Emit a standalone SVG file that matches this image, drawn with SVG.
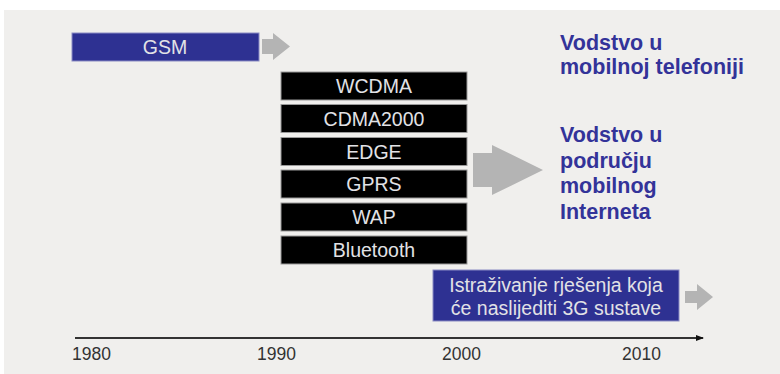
<svg xmlns="http://www.w3.org/2000/svg" width="780" height="374" viewBox="0 0 780 374">
<defs>
<style>
.bg{fill:#f0efed}
.blue{fill:#2e3192;stroke:#8a8cc4;stroke-width:1}
.blk{fill:#000;stroke:#9a9a9a;stroke-width:1}
.arr{fill:#b4b4b4}
.lbl{font-family:"Liberation Sans",Arial,sans-serif;font-size:19.5px;fill:#e2e2e6;text-anchor:middle}
.head{font-family:"Liberation Sans",Arial,sans-serif;font-size:21.5px;font-weight:bold;fill:#333399}
.yr{font-family:"Liberation Sans",Arial,sans-serif;font-size:17.5px;fill:#333}
</style>
<marker id="ah" markerWidth="8" markerHeight="8" refX="7" refY="4" orient="auto" markerUnits="userSpaceOnUse">
<path d="M0,1 L8,4 L0,7 Z" fill="#111"/>
</marker>
</defs>
<rect width="780" height="374" fill="#fff"/>
<rect class="bg" x="4" y="10" width="776" height="364"/>

<g id="gsm">
<rect class="blue" x="72" y="33" width="187" height="28"/>
<text class="lbl" x="165" y="54" font-size="19">GSM</text>
</g>

<g id="wcdma"><rect class="blk" x="281" y="72" width="186" height="28"/><text class="lbl" x="374" y="93">WCDMA</text></g>
<g id="cdma2000"><rect class="blk" x="281" y="104.5" width="186" height="28"/><text class="lbl" x="374" y="125.5">CDMA2000</text></g>
<g id="edge"><rect class="blk" x="281" y="137.5" width="186" height="28"/><text class="lbl" x="374" y="158.5">EDGE</text></g>
<g id="gprs"><rect class="blk" x="281" y="170" width="186" height="28"/><text class="lbl" x="374" y="191">GPRS</text></g>
<g id="wap"><rect class="blk" x="281" y="203" width="186" height="28"/><text class="lbl" x="374" y="224">WAP</text></g>
<g id="bluetooth"><rect class="blk" x="281" y="236" width="186" height="28"/><text class="lbl" x="374" y="257">Bluetooth</text></g>

<g id="research">
<rect class="blue" x="433" y="270" width="246" height="51"/>
<text class="lbl" x="556" y="292" font-size="20">Istraživanje rješenja koja</text>
<text class="lbl" x="556" y="315" font-size="20">će naslijediti 3G sustave</text>
</g>

<g id="lead1">
<text class="head" x="560" y="50">Vodstvo u</text>
<text class="head" x="560" y="74">mobilnoj telefoniji</text>
</g>
<g id="lead2">
<text class="head" x="560" y="142">Vodstvo u</text>
<text class="head" x="560" y="167.5">području</text>
<text class="head" x="560" y="193">mobilnog</text>
<text class="head" x="560" y="219">Interneta</text>
</g>

<g id="connectors">
<path class="arr" d="M262,39 H273 V33 L290,46.5 L273,60 V54 H262 Z"/>
<path class="arr" d="M473,153 H492 V145 L543,170 L492,195 V187 H473 Z"/>
<path class="arr" d="M685,291 H697 V284 L713,297 L697,310 V303 H685 Z"/>
<line x1="75" y1="338" x2="703" y2="338" stroke="#333" stroke-width="2" marker-end="url(#ah)"/>
</g>

<g id="years">
<text class="yr" x="72" y="360">1980</text>
<text class="yr" x="257" y="360">1990</text>
<text class="yr" x="442" y="360">2000</text>
<text class="yr" x="622" y="360">2010</text>
</g>
</svg>
